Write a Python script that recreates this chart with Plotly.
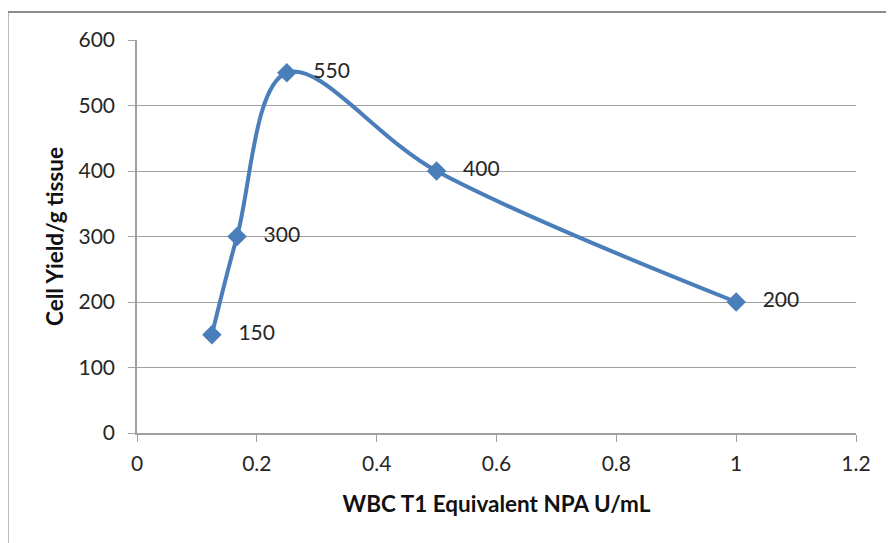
import plotly.graph_objects as go

x_vals = [0.125, 0.167, 0.25, 0.5, 1.0]
y_vals = [150, 300, 550, 400, 200]
labels = ["150", "300", "550", "400", "200"]
x_ticks = [0, 0.2, 0.4, 0.6, 0.8, 1, 1.2]
x_tick_text = ["0", "0.2", "0.4", "0.6", "0.8", "1", "1.2"]
y_ticks = [0, 100, 200, 300, 400, 500, 600]

OFF = 8  # default page body margin
W, H = 894, 543
L, R, T, B = 136.5 - OFF, 38 + OFF, 40 - OFF, 110 + OFF
pw, ph = W - L - R, H - T - B

def px(p):
    return (p - OFF - L) / pw

def py(p):
    return (H - B - (p - OFF)) / ph

color = "#4A7EBB"
font = "Lato, Open Sans, sans-serif"
tcol = "#262626"

fig = go.Figure()
fig.add_trace(go.Scatter(
    x=x_vals, y=y_vals, mode="lines+markers+text",
    line=dict(color=color, width=4, shape="spline", smoothing=1.0),
    marker=dict(symbol="diamond", size=15, color=color),
    text=["   " + t for t in labels], textposition="middle right",
    textfont=dict(family=font, size=21, color=tcol),
    cliponaxis=False, showlegend=False,
))

fig.update_layout(
    width=W, height=H,
    margin=dict(l=L, r=R, t=T, b=B, autoexpand=False),
    paper_bgcolor="white", plot_bgcolor="white",
    font=dict(family=font, size=21, color=tcol),
    xaxis=dict(range=[0, 1.2], tickvals=x_ticks, ticktext=x_tick_text, automargin=False,
               showgrid=False, zeroline=False, showline=True, linecolor="#A0A0A0",
               linewidth=1.5, ticks="outside", ticklen=7, tickcolor="#A0A0A0",
               ticklabelstandoff=4,
               tickfont=dict(size=21, color=tcol),
               title=dict(text="<b>WBC T1 Equivalent NPA U/mL</b>", font=dict(size=22.5, color="#111"), standoff=22)),
    yaxis=dict(range=[0, 600], tickvals=y_ticks, showgrid=True, gridcolor="#A0A0A0", automargin=False,
               gridwidth=1.2, zeroline=False, showline=True, linecolor="#A0A0A0",
               linewidth=1.5, ticks="outside", ticklen=7, tickcolor="#A0A0A0",
               ticklabelstandoff=9,
               tickfont=dict(size=21, color=tcol),
               title=dict(text="<b>Cell Yield/g tissue</b>", font=dict(size=22.5, color="#111"), standoff=9)),
    shapes=[
        dict(type="line", xref="paper", yref="paper", x0=px(7), x1=px(910), y0=py(12), y1=py(12),
             line=dict(color="#8C8C8C", width=2)),
        dict(type="line", xref="paper", yref="paper", x0=px(7), x1=px(7), y0=py(560), y1=py(12),
             line=dict(color="#8C8C8C", width=2)),
    ],
)

fig.write_html("out.html")
